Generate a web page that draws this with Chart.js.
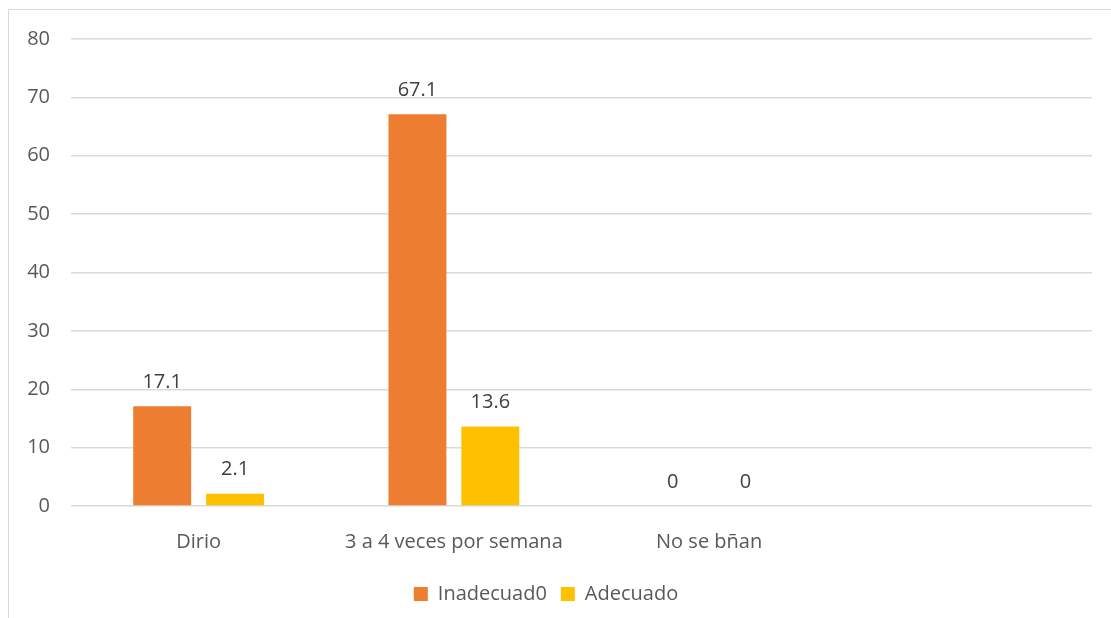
<!DOCTYPE html>
<html>
<head>
<meta charset="utf-8">
<script src="https://cdn.jsdelivr.net/npm/chart.js@4"></script>
<style>
  html, body { margin: 0; padding: 0; background: #fff; }
  #wrap { position: relative; width: 1111px; height: 618px; overflow: hidden; }
  #frame { position: absolute; left: 8px; top: 9px; width: 1200px; height: 700px; border: 1px solid #d9d9d9; box-sizing: border-box; }
  #chart { position: absolute; left: 0; top: 0; }
</style>
</head>
<body>
<div id="wrap">
  <div id="frame"></div>
  <canvas id="chart" width="1111" height="618"></canvas>
</div>
<script>
const categories = ["Dirio", "3 a 4 veces por semana", "No se bñan", ""];
const inadecuado = [17.1, 67.1, 0, null];
const adecuado = [2.1, 13.6, 0, null];
const yTicks = [0, 10, 20, 30, 40, 50, 60, 70, 80];

const fontFamily = "'Open Sans', sans-serif";
const textColor = "#595959";

// etiquettes de valeur au-dessus des barres
const valueLabels = {
  id: "valueLabels",
  afterDatasetsDraw(chart) {
    const ctx = chart.ctx;
    ctx.save();
    ctx.font = "20px " + fontFamily;
    ctx.fillStyle = "#404040";
    ctx.textAlign = "center";
    ctx.textBaseline = "middle";
    chart.data.datasets.forEach((ds, i) => {
      chart.getDatasetMeta(i).data.forEach((bar, j) => {
        const v = ds.data[j];
        if (v === null || v === undefined) return;
        ctx.fillText(String(v), bar.x, bar.y - 24);
      });
    });
    ctx.restore();
  }
};

new Chart(document.getElementById("chart"), {
  type: "bar",
  data: {
    labels: categories,
    datasets: [{
      label: "Inadecuad0",
      data: inadecuado,
      backgroundColor: "#ED7D31",
      categoryPercentage: 0.571,
      barPercentage: 0.795
    }, {
      label: "Adecuado",
      data: adecuado,
      backgroundColor: "#FFC000",
      categoryPercentage: 0.571,
      barPercentage: 0.795
    }]
  },
  options: {
    responsive: false,
    animation: false,
    layout: { padding: { top: 39, right: 19, bottom: 4, left: 0 } },
    plugins: {
      legend: {
        position: "bottom",
        labels: {
          color: textColor,
          font: { family: fontFamily, size: 20 },
          boxWidth: 14,
          boxHeight: 14,
          padding: 14
        }
      },
      tooltip: { enabled: false }
    },
    scales: {
      x: {
        grid: { display: false },
        border: { display: false },
        ticks: {
          color: textColor,
          font: { family: fontFamily, size: 20 },
          maxRotation: 0,
          padding: 16
        }
      },
      y: {
        min: 0,
        max: 80,
        afterBuildTicks: s => { s.ticks = yTicks.map(v => ({ value: v })); },
        afterFit: s => { s.width = 71; },
        grid: { color: "#d9d9d9", lineWidth: 1.5, drawTicks: false },
        border: { display: false },
        ticks: {
          color: textColor,
          font: { family: fontFamily, size: 20 },
          padding: 21
        }
      }
    }
  },
  plugins: [valueLabels]
});
</script>
</body>
</html>
